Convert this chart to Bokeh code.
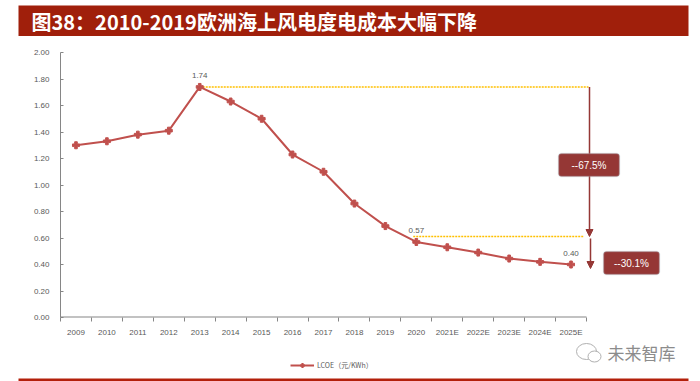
from bokeh.plotting import figure
from bokeh.layouts import column, row
from bokeh.models import (Range1d, FixedTicker, NumeralTickFormatter, Label, Arrow,
                          NormalHead, BoxAnnotation, Legend, LegendItem)
from bokeh.core.properties import value
from bokeh.embed import file_html
from bokeh.resources import INLINE

# ---- data ----
years = ["2009", "2010", "2011", "2012", "2013", "2014", "2015", "2016", "2017",
         "2018", "2019", "2020", "2021E", "2022E", "2023E", "2024E", "2025E"]
lcoe = [1.30, 1.33, 1.38, 1.41, 1.74, 1.63, 1.50, 1.23, 1.10,
        0.86, 0.69, 0.57, 0.53, 0.49, 0.445, 0.42, 0.40]
y_ticks = [0.0, 0.2, 0.4, 0.6, 0.8, 1.0, 1.2, 1.4, 1.6, 1.8, 2.0]
labelled_idx = [4, 11, 16]          # 2013, 2020, 2025E
drop_total = "--67.5%"
drop_recent = "--30.1%"
title_text = "图38：2010-2019欧洲海上风电度电成本大幅下降"
legend_label = "LCOE（元/KWh）"
watermark = "未来智库"

RED = "#C0504D"
DARK = "#953735"
GOLD = "#FFC000"
AXIS = "#868686"
TXT = "#595959"
BANNER = "#A01F0B"
CJK = "Noto Sans CJK SC"

W = 700
xs = list(range(len(years)))
peak_i, ref_i, last_i = labelled_idx

# pixel helpers (page pixels) for decorations
FRAME_L = 60
PX_PER_X = 526 / len(years)
PX_PER_Y = 265 / 2.0
def X(px):
    return (px - FRAME_L) / PX_PER_X - 0.5
def Y(py):
    return (317 - py) / PX_PER_Y

def bare(fig):
    fig.outline_line_color = None
    fig.grid.visible = False
    fig.background_fill_color = "white"
    fig.border_fill_color = "white"
    return fig

# ---------------- banner ----------------
banner = bare(figure(width=W, height=36, output_backend="svg", toolbar_location=None,
                     x_range=Range1d(0, W), y_range=Range1d(36, 0),
                     x_axis_location=None, y_axis_location=None, min_border=0))
banner.quad(left=[18], right=[688], top=[5], bottom=[36], fill_color=BANNER, line_color=None)
banner.text(x=[31], y=[21], text=[title_text], text_align="left", text_baseline="middle",
            text_color="white", text_font_size="20px", text_font_style="bold",
            text_font=value(CJK))

# ---------------- main chart ----------------
main = bare(figure(width=W, height=304, output_backend="svg", toolbar_location=None,
                   x_range=Range1d(-0.5, X(W)), y_range=Range1d(0, 2.0),
                   min_border_left=FRAME_L, min_border_right=0,
                   min_border_top=16, min_border_bottom=23))

xa = main.xaxis[0]
xa.ticker = FixedTicker(ticks=xs, minor_ticks=[i - 0.5 for i in range(len(years) + 1)])
xa.major_label_overrides = {i: y for i, y in enumerate(years)}
xa.major_tick_in = 0
xa.major_tick_out = 0
xa.minor_tick_in = 0
xa.minor_tick_out = 4
xa.minor_tick_line_color = AXIS
xa.axis_line_color = None          # baseline drawn only across the categories below
xa.major_label_standoff = 6
xa.major_label_text_font_size = "8px"
xa.major_label_text_color = TXT
xa.major_label_text_font = "Liberation Sans"
main.segment(x0=[-0.5], y0=[0], x1=[len(years) - 0.5], y1=[0], line_color=AXIS,
             line_width=2)

ya = main.yaxis[0]
ya.ticker = FixedTicker(ticks=y_ticks)
ya.formatter = NumeralTickFormatter(format="0.00")
ya.major_tick_in = 3
ya.major_tick_out = 0
ya.major_tick_line_color = AXIS
ya.minor_tick_line_color = None
ya.axis_line_color = AXIS
ya.major_label_standoff = 11
ya.major_label_text_font_size = "8px"
ya.major_label_text_color = TXT
ya.major_label_text_font = "Liberation Sans"

# dotted guide lines
main.segment(x0=[xs[peak_i]], y0=[lcoe[peak_i]], x1=[X(588)], y1=[lcoe[peak_i]],
             line_color=GOLD, line_width=1.5, line_dash="2 1")
main.segment(x0=[xs[ref_i] - 0.1], y0=[Y(236)], x1=[X(583)], y1=[Y(236)],
             line_color=GOLD, line_width=1.5, line_dash="2 1")

# series
ln = main.line(xs, lcoe, line_color=RED, line_width=2)
sc = main.scatter(xs, lcoe, marker="plus", size=7, color=RED)

# value labels
for i in labelled_idx:
    main.add_layout(Label(x=xs[i], y=lcoe[i], text=f"{lcoe[i]:.2f}", text_align="center",
                          text_baseline="bottom", y_offset=9, text_font_size="8px",
                          text_color=TXT, text_font="Liberation Sans"))

# arrows and callouts
main.add_layout(Arrow(end=NormalHead(size=7, fill_color=DARK, line_color=DARK),
                      x_start=X(589), y_start=lcoe[peak_i], x_end=X(589), y_end=Y(236),
                      line_color=DARK, line_width=1.5))
main.add_layout(Arrow(end=NormalHead(size=7, fill_color=DARK, line_color=DARK),
                      x_start=X(590), y_start=Y(238), x_end=X(590), y_end=Y(268),
                      line_color=DARK, line_width=1.5))
for (l, r, t, b, txt) in [(558, 619, 153, 176, drop_total), (603, 659, 251, 274, drop_recent)]:
    main.add_layout(BoxAnnotation(left=X(l), right=X(r), top=Y(t), bottom=Y(b),
                                  fill_color=DARK, fill_alpha=1.0, line_color="#A9BCC8",
                                  line_width=1.5, border_radius=3))
    main.add_layout(Label(x=X((l + r) / 2), y=Y((t + b) / 2), text=txt, text_align="center",
                          text_baseline="middle", text_color="white", text_font_size="10px",
                          text_font="Liberation Sans"))

# ---------------- footer ----------------
footer = bare(figure(width=W, height=41, output_backend="svg", toolbar_location=None,
                     x_range=Range1d(0, W), y_range=Range1d(381, 340),
                     x_axis_location=None, y_axis_location=None, min_border=0))
footer.quad(left=[18], right=[688], top=[378], bottom=[381], fill_color="#B3200B",
            line_color=None)
footer.ellipse(x=[586], y=[351], width=[20], height=[16], fill_color=None,
               line_color="#B0B0B0", line_width=1)
footer.ellipse(x=[594], y=[356], width=[13], height=[11], fill_color="white",
               line_color="#B0B0B0", line_width=1)
footer.text(x=[607], y=[352], text=[watermark], text_align="left", text_baseline="middle",
            text_color="#8C8C8C", text_font_size="17px", text_font=value(CJK))
# legend swatch renderers (kept out of view; only their legend glyph shows)
lg_line = footer.line(x=[-50, -40], y=[300, 300], line_color=RED, line_width=2)
lg_mark = footer.scatter(x=[-45], y=[300], marker="plus", size=5, color=RED)
legend = Legend(items=[LegendItem(label=legend_label, renderers=[lg_line, lg_mark])],
                location=(290, 11), glyph_width=24, glyph_height=10, label_height=10,
                label_text_font_size="7px", label_text_color=TXT,
                label_text_font=CJK, border_line_color=None,
                background_fill_alpha=0, padding=0, margin=0, label_standoff=3)
footer.add_layout(legend)

# wrap each figure in its own row so the column does not align their frames
layout = column(row(banner), row(main), row(footer), spacing=0)
open("out.html", "w").write(file_html(layout, INLINE))
